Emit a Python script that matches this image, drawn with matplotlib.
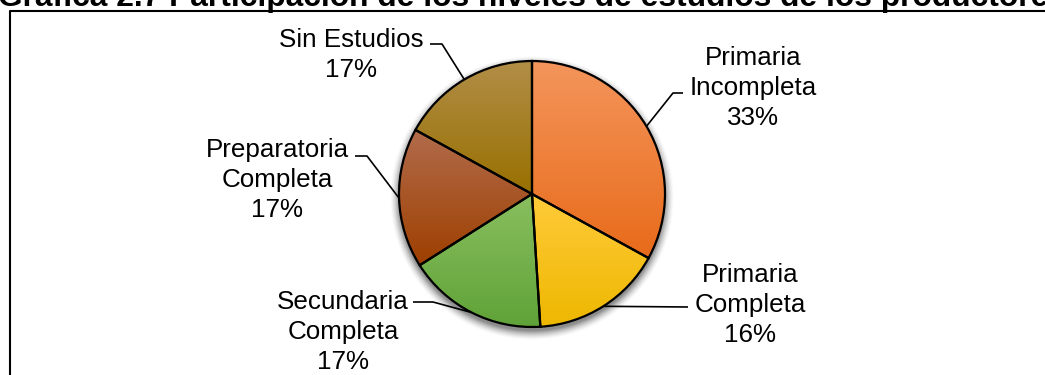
import numpy as np
import matplotlib.pyplot as plt
from matplotlib.colors import to_rgb

plt.rcParams['font.family'] = ['Liberation Sans', 'DejaVu Sans']

# niveles de estudio y su participación (%)
niveles = ['Primaria\nIncompleta', 'Primaria\nCompleta', 'Secundaria\nCompleta',
           'Preparatoria\nCompleta', 'Sin Estudios']
porcentajes = [33, 16, 17, 17, 17]
color_claro = ['#F4955C', '#FFCB3A', '#8ABF60', '#B26C4C', '#B28E48']
color_oscuro = ['#E86B1A', '#EEB700', '#5FA237', '#9E3F00', '#987000']

titulo = 'Gráfica 2.7 Participación de los niveles de estudios de los productores'

W, H = 1045, 375
fig = plt.figure(figsize=(W / 100, H / 100), dpi=100)
ax = fig.add_axes([0, 0, 1, 1])

cx, cy, r = 532, H - 194, 133

# sombra suave bajo el pastel
xs = np.arange(cx - r - 25, cx + r + 25)
ys = np.arange(cy - r - 25, cy + r + 25)
gx, gy = np.meshgrid(xs, ys)
d = np.hypot(gx - cx, gy - (cy - 4))
alfa = 0.45 * np.clip((r + 10 - d) / 10, 0, 1) ** 1.6
sombra = np.zeros(gx.shape + (4,))
sombra[..., 3] = alfa
ax.imshow(sombra, extent=(xs[0], xs[-1], ys[0], ys[-1]), origin='lower',
          zorder=0, interpolation='bilinear')

wedges, _ = ax.pie(porcentajes, startangle=90, counterclock=False,
                   center=(cx, cy), radius=r, frame=True,
                   wedgeprops=dict(linewidth=1.6, edgecolor='black', zorder=3))

# degradado vertical dentro de cada rebanada
for w, c1, c2 in zip(wedges, color_claro, color_oscuro):
    v = w.get_path().vertices
    y0, y1 = v[:, 1].min(), v[:, 1].max()
    x0, x1 = v[:, 0].min(), v[:, 0].max()
    t = np.linspace(0, 1, 256)[:, None]
    grad = (1 - t) * np.array(to_rgb(c2)) + t * np.array(to_rgb(c1))
    img = ax.imshow(grad[:, None, :].repeat(2, axis=1), extent=(x0, x1, y0, y1),
                    origin='lower', zorder=2, aspect='auto', interpolation='bilinear')
    img.set_clip_path(w)
    w.set_facecolor('none')

# posición de etiquetas (centro x, línea base de la última línea) y codos de las guías
pos_etiqueta = [(753, 125), (750, 342), (343, 369), (277, 217), (351, 77)]
codos = [[(673, 93), (683, 93)],
         [(688, 307)],
         [(433, 302), (413, 302)],
         [(367, 156), (355, 156)],
         [(442, 44), (430, 44)]]

for w, nivel, pct, (lx, ly), codo in zip(wedges, niveles, porcentajes, pos_etiqueta, codos):
    ang = np.deg2rad((w.theta1 + w.theta2) / 2)
    px = [cx + r * np.cos(ang)] + [p[0] for p in codo]
    py = [cy + r * np.sin(ang)] + [H - p[1] for p in codo]
    ax.plot(px, py, color='black', lw=1.2, zorder=4, solid_capstyle='butt')
    ax.text(lx, H - ly, f'{nivel}\n{pct}%', ha='center', va='baseline',
            fontsize=18.7, linespacing=1.31, zorder=5)

# marco del gráfico
ax.plot([10, 10, W + 5], [-5, H - 11, H - 11], color='black', lw=1.5, zorder=6)

fig.text(-0.002, 1 - 6 / H, titulo, fontsize=22.9, fontweight='bold',
         ha='left', va='baseline')

ax.set_xlim(0, W)
ax.set_ylim(0, H)
ax.set_aspect('equal')
ax.axis('off')

fig.savefig('out.png', dpi=100)
